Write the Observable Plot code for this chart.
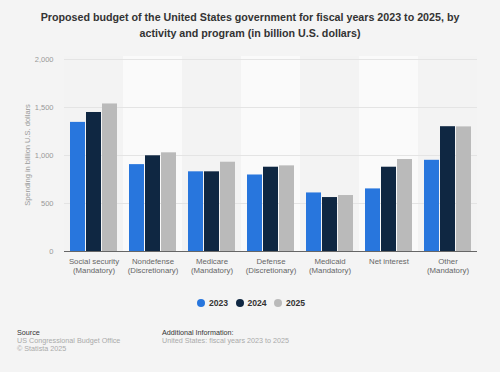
<!DOCTYPE html>
<html>
<head>
<meta charset="utf-8">
<script src="https://cdn.jsdelivr.net/npm/d3@7"></script>
<script src="https://cdn.jsdelivr.net/npm/@observablehq/plot@0.6"></script>
<style>
  html, body { margin: 0; padding: 0; background: #f4f4f4; }
  body { width: 500px; height: 372px; position: relative; overflow: hidden; font-family: "Liberation Sans", Arial, sans-serif; }
  #title { position: absolute; left: 0; top: 9px; width: 500px; text-align: center; font-weight: bold; font-size: 10.7px; line-height: 16px; color: #333; }
  #chart { position: absolute; left: 0; top: 50px; }
  #ylabel { position: absolute; left: 27px; top: 155px; transform: translate(-50%, -50%) rotate(-90deg); white-space: nowrap; font-size: 7.5px; color: #999; }
  #legend { position: absolute; left: 0; top: 296px; width: 500px; height: 14px; }
  .li { position: absolute; top: 0; font-weight: bold; font-size: 8.6px; color: #333; line-height: 14px; }
  .dot { position: absolute; top: 3px; width: 8px; height: 8px; border-radius: 50%; }
  .foot { position: absolute; font-size: 7.2px; line-height: 8px; }
  .fh { color: #333; }
  .fg { color: #aaa; }
</style>
</head>
<body>
<div id="title">Proposed budget of the United States government for fiscal years 2023 to 2025, by<br>activity and program (in billion U.S. dollars)</div>
<div id="chart"></div>
<div id="ylabel">Spending in billion U.S. dollars</div>
<div id="legend"></div>
<div class="foot fh" style="left:17px; top:329px;">Source</div>
<div class="foot fg" style="left:17px; top:337px;">US Congressional Budget Office</div>
<div class="foot fg" style="left:17px; top:345px;">© Statista 2025</div>
<div class="foot fh" style="left:162px; top:329px;">Additional Information:</div>
<div class="foot fg" style="left:162px; top:337px;">United States: fiscal years 2023 to 2025</div>
<script>
const categories = [
  "Social security\n(Mandatory)",
  "Nondefense\n(Discretionary)",
  "Medicare\n(Mandatory)",
  "Defense\n(Discretionary)",
  "Medicaid\n(Mandatory)",
  "Net interest",
  "Other\n(Mandatory)"
];
const years = ["2023", "2024", "2025"];
const values2023 = [1345, 905, 830, 797, 610, 652, 950];
const values2024 = [1448, 997, 830, 878, 562, 878, 1300];
const values2025 = [1537, 1028, 930, 892, 583, 958, 1298];
const yearColors = ["#2876dd", "#0f2742", "#bababa"];
const yTicks = [0, 500, 1000, 1500, 2000];

const series = [values2023, values2024, values2025];
const data = [];
categories.forEach((c, i) => {
  years.forEach((y, j) => data.push({category: c, year: y, value: series[j][i]}));
});
const bandsOdd = categories.filter((c, i) => i % 2 === 1);
const bandsEven = categories.filter((c, i) => i % 2 === 0);

const chart = Plot.plot({
  width: 500,
  height: 240,
  marginTop: 9,
  marginBottom: 39,
  marginLeft: 61,
  marginRight: 20,
  style: {background: "transparent", fontFamily: "Liberation Sans, Arial, sans-serif"},
  fx: {domain: categories, padding: 0, axis: null, label: null},
  x: {domain: years, axis: null, paddingInner: 0.06, paddingOuter: 0.29},
  y: {
    domain: [0, 2000],
    ticks: yTicks,
    tickFormat: d3.format(","),
    tickSize: 0,
    tickPadding: 11,
    label: null
  },
  color: {domain: years, range: yearColors},
  marks: [
    Plot.barY(bandsOdd, {fx: d => d, y1: 0, y2: 2000, fill: "#fafafa", insetTop: -3}),
    Plot.barY(bandsEven, {fx: d => d, y1: 0, y2: 2000, fill: "#f3f3f3", insetTop: -3}),
    Plot.ruleY(yTicks.slice(1), {stroke: "#e4e4e4", strokeWidth: 1}),
    Plot.barY(data, {fx: "category", x: "year", y: "value", fill: "year"}),
    Plot.ruleY([0], {stroke: "#666", strokeWidth: 1}),
    Plot.text(categories, {fx: d => d, text: d => d, frameAnchor: "bottom", lineAnchor: "top", dy: 7, fontSize: 7.8, lineHeight: 1.06, fill: "#666"})
  ]
});
chart.querySelectorAll("g[aria-label='y-axis tick label']").forEach(g => { g.setAttribute("fill", "#999"); g.setAttribute("font-size", "7.5"); });
document.getElementById("chart").appendChild(chart);

const legend = document.getElementById("legend");
const lx = [197, 235.5, 274];
years.forEach((y, i) => {
  const d = document.createElement("div");
  d.className = "dot";
  d.style.left = lx[i] + "px";
  d.style.background = yearColors[i];
  legend.appendChild(d);
  const t = document.createElement("div");
  t.className = "li";
  t.style.left = (lx[i] + 12) + "px";
  t.textContent = y;
  legend.appendChild(t);
});
</script>
</body>
</html>
